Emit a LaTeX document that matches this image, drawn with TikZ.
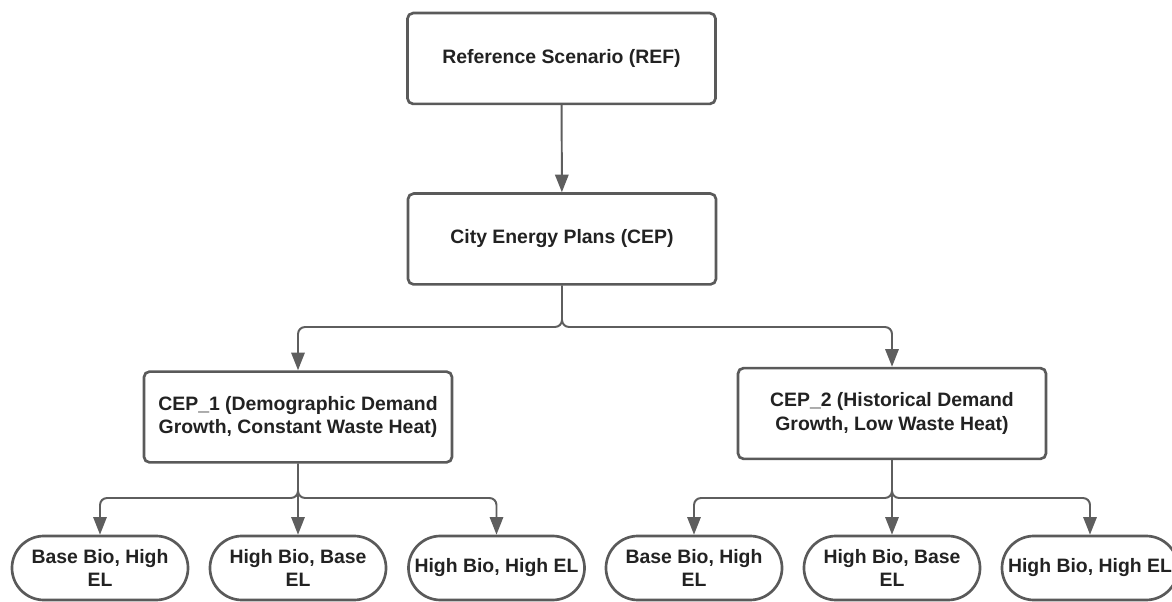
\documentclass[tikz,border=0pt]{standalone}
\usepackage{fontspec}
\setmainfont{Liberation Sans}
\usetikzlibrary{arrows.meta,shapes.misc}
\definecolor{boxline}{HTML}{5A5A5A}
\definecolor{flowline}{HTML}{5E5E5E}
\definecolor{labeltext}{HTML}{222222}
\tikzset{
	planbox/.style={draw=boxline, line width=1.9pt, rounded corners=4pt, fill=white,
		minimum width=7.7cm, minimum height=2.27cm, align=center,
		font=\fontsize{13.8}{16.8}\selectfont\bfseries, text=labeltext},
	casebox/.style={draw=boxline, line width=1.9pt, rounded rectangle, fill=white,
		minimum width=4.4cm, minimum height=1.6cm, inner xsep=0pt, align=center,
		font=\fontsize{13.8}{16.8}\selectfont\bfseries, text=labeltext},
	flow/.style={draw=flowline, line width=1.4pt, -{Triangle[width=9.5pt,length=12.5pt]}},
	branch/.style={flow, rounded corners=5pt}
}

\begin{document}
\begin{tikzpicture}[x=0.025cm, y=-0.025cm]
		%%%%% START %%%%%
		\useasboundingbox (0, 0) rectangle (1172, 602);
		
		\node[planbox] (ref) at (561.5, 58.5) {Reference Scenario (REF)};
		\node[planbox] (cep) at (562, 239) {City Energy Plans (CEP)};
		
		\node[planbox] (cepA) at (298, 417) {CEP\_1 (Demographic Demand\\Growth, Constant Waste Heat)};
		\node[planbox] (cepB) at (892, 413.5) {CEP\_2 (Historical Demand\\Growth, Low Waste Heat)};
		
		\node[casebox] (a1) at (100, 568) {Base Bio, High\\EL};
		\node[casebox] (a2) at (298, 568) {High Bio, Base\\EL};
		\node[casebox] (a3) at (496.5, 568) {High Bio, High EL};
		\node[casebox] (b1) at (694, 568) {Base Bio, High\\EL};
		\node[casebox] (b2) at (892, 568) {High Bio, Base\\EL};
		\node[casebox] (b3) at (1090, 568) {High Bio, High EL};
		
		\coordinate (splitTop) at (562, 327);
		\coordinate (splitA) at (298, 498);
		\coordinate (splitB) at (892, 498);
		
		\draw[flow] (ref) -- (cep);
		
		\draw[branch] (cep.south) -- (splitTop) -| (cepA.north);
		\draw[branch] (cep.south) -- (splitTop) -| (cepB.north);
		
		\draw[branch] (cepA.south) -- (splitA) -| (a1.north);
		\draw[flow] (cepA.south) -- (a2.north);
		\draw[branch] (cepA.south) -- (splitA) -| (a3.north);
		
		\draw[branch] (cepB.south) -- (splitB) -| (b1.north);
		\draw[flow] (cepB.south) -- (b2.north);
		\draw[branch] (cepB.south) -- (splitB) -| (b3.north);
		%%%%% END %%%%%
\end{tikzpicture}
\end{document}
